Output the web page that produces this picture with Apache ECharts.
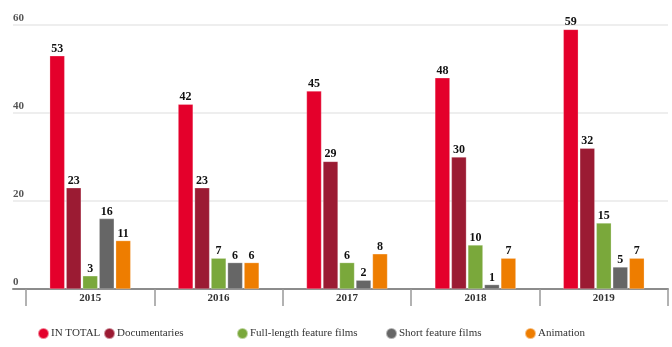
<!DOCTYPE html>
<html>
<head>
<meta charset="utf-8">
<script src="https://cdn.jsdelivr.net/npm/echarts@6/dist/echarts.min.js"></script>
<style>
  html, body { margin: 0; padding: 0; background: #fff; }
  #chart { width: 672px; height: 347px; }
</style>
</head>
<body>
<div id="chart"></div>
<script>
// Films produced per year, by type
const years = ['2015', '2016', '2017', '2018', '2019'];
const inTotal = [53, 42, 45, 48, 59];
const documentaries = [23, 23, 29, 30, 32];
const fullLength = [3, 7, 6, 10, 15];
const shortFilms = [16, 6, 2, 1, 5];
const animation = [11, 6, 8, 7, 7];
const yTicks = [0, 20, 40, 60];

const seriesNames = ['IN TOTAL', 'Documentaries', 'Full-length feature films', 'Short feature films', 'Animation'];
const seriesData = [inTotal, documentaries, fullLength, shortFilms, animation];
const colors = ['#E4002B', '#9B1B33', '#7AA83B', '#666666', '#EE7D00'];

const serif = '"Liberation Serif", "Times New Roman", serif';
const chart = echarts.init(document.getElementById('chart'));

// Legend entries are laid out individually
const legendLeft = [32, 98, 231, 380, 519];

chart.setOption({
  animation: false,
  color: colors,
  grid: [
    { left: 13, right: 4, top: 25, bottom: 58 },
    { left: 26, right: 4, top: 25, bottom: 58 }
  ],
  xAxis: [
    {
      gridIndex: 0, type: 'value', min: 0, max: 1,
      axisLine: { show: true, lineStyle: { color: '#8c8c8c', width: 2 } },
      axisTick: { show: false }, axisLabel: { show: false }, splitLine: { show: false }
    },
    {
      gridIndex: 1, type: 'category', data: years,
      axisLine: { show: false },
      axisTick: { show: true, length: 17, lineStyle: { color: '#999', width: 1.5 } },
      axisLabel: { margin: 4, color: '#333', fontFamily: serif, fontWeight: 'bold', fontSize: 11 }
    }
  ],
  yAxis: [
    {
      gridIndex: 0, type: 'value', min: 0, max: 60, interval: 20,
      axisLine: { show: false }, axisTick: { show: false },
      axisLabel: {
        inside: true, align: 'left', verticalAlign: 'bottom', margin: 0,
        padding: [0, 0, 1, 0],
        color: '#555', fontFamily: serif, fontWeight: 'bold', fontSize: 11,
        formatter: v => yTicks.includes(v) ? String(v) : ''
      },
      splitLine: { lineStyle: { color: '#e8e8e8', width: 1.5 } }
    },
    {
      gridIndex: 1, type: 'value', min: 0, max: 60, interval: 20,
      axisLine: { show: false }, axisTick: { show: false },
      axisLabel: { show: false }, splitLine: { show: false }
    }
  ],
  legend: seriesNames.map((name, i) => ({
    data: [name],
    left: legendLeft[i], top: 322,
    icon: 'circle', itemWidth: 11, itemHeight: 11, itemGap: 0,
    textStyle: { fontFamily: serif, fontSize: 11, color: '#333', padding: [0, 0, 0, -3] }
  })),
  series: seriesNames.map((name, i) => ({
    name: name,
    type: 'bar',
    xAxisIndex: 1, yAxisIndex: 1,
    data: seriesData[i],
    barWidth: 15,
    barGap: '10%',
    itemStyle: { color: colors[i], borderColor: 'rgba(255,255,255,0.5)', borderWidth: 0.5 },
    label: {
      show: true, position: 'top', distance: 1,
      color: '#111', fontFamily: serif, fontWeight: 'bold', fontSize: 12
    }
  }))
});
</script>
</body>
</html>
